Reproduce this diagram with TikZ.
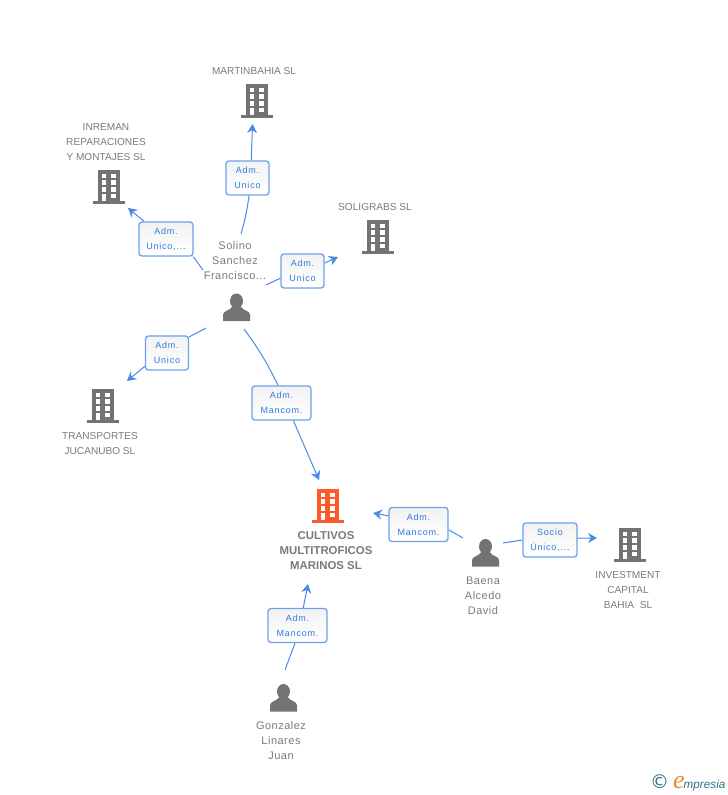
\documentclass[tikz,border=0pt]{standalone}
\usepackage{fontspec}
\setmainfont{Liberation Sans}
\newfontfamily\boxfont[LetterSpace=9]{Liberation Sans}
\newfontfamily\namefont[LetterSpace=4.5]{Liberation Sans}
\newfontfamily\markfont{DejaVu Sans}
\newfontfamily\logofont{Liberation Serif}
\usetikzlibrary{arrows.meta}
\usetikzlibrary{shadings}
\definecolor{greyicon}{HTML}{737373}
\definecolor{greytext}{HTML}{7A7A7A}
\definecolor{mainicon}{HTML}{FF5A2B}
\definecolor{linkblue}{HTML}{4A8AE4}
\definecolor{boxblue}{HTML}{6AA2EC}
\definecolor{roleblue}{HTML}{2F7AE0}
\definecolor{logoteal}{HTML}{2F6F86}
\definecolor{logoorange}{HTML}{F08A24}
\tikzset{
    company/.style={text=greytext,font=\fontsize{10.1}{15}\selectfont,align=center,inner sep=0pt,yshift=-1pt},
    maincompany/.style={company,font=\fontsize{11.4}{15}\selectfont\bfseries},
    owner/.style={company,font=\fontsize{11}{15}\selectfont\namefont},
    role/.style={draw=boxblue,line width=1.3pt,rounded corners=3pt,top color=black!5,bottom color=white,
        minimum height=34pt,inner sep=0pt,align=center,text=roleblue,font=\fontsize{9}{15}\selectfont\boxfont,
        execute at begin node={\rule{0pt}{8.6pt}}},
    roleshort/.style={role,minimum width=43pt},
    rolemid/.style={role,minimum width=54pt},
    rolelong/.style={role,minimum width=59pt},
    link/.style={draw=linkblue,line width=1pt},
    linkto/.style={link,-{Stealth[length=9pt,width=10pt,inset=3pt]}},
    pics/building/.style={code={
        \fill[#1] (-11,-17) rectangle (11,14);
        \fill[#1] (-16,14) rectangle (16,17);
        \fill[white] (-7,-13.3) rectangle (-2.7,-9);
        \fill[white] (2.3,-13.3) rectangle (7,-9);
        \fill[white] (-7,-6.7) rectangle (-2.7,-2.5);
        \fill[white] (2.3,-6.7) rectangle (7,-2.5);
        \fill[white] (-7,0) rectangle (-2.7,4.5);
        \fill[white] (2.3,0) rectangle (7,4.5);
        \fill[white] (-7,6.7) rectangle (-2.7,14);
        \fill[white] (2.3,6.7) rectangle (7,11);
    }},
    pics/person/.style={code={
        \fill[greyicon] (0,-6.5) ellipse (6.5 and 7.5);
        \fill[greyicon] (-13.5,13.5) -- (13.5,13.5) -- (13.5,7)
            .. controls (13,3) and (7,3.5) .. (4,-1) -- (-4,-1)
            .. controls (-7,3.5) and (-13,3) .. (-13.5,7) -- cycle;
    }}
}
\begin{document}
\begin{tikzpicture}[x=1pt,y=-1pt]
    \useasboundingbox (0,0) rectangle (728,795);

    \pic at (257,101) {building=greyicon};
    \pic at (109,187) {building=greyicon};
    \pic at (378,237) {building=greyicon};
    \pic at (103,406) {building=greyicon};
    \pic at (328,506) {building=mainicon};
    \pic at (630,545) {building=greyicon};
    \pic at (236.5,307.5) {person};
    \pic at (485.5,553) {person};
    \pic at (283.5,698) {person};

    \node[company] (martinbahia) at (254,70) {MARTINBAHIA SL};
    \node[company] (inreman) at (106,141) {INREMAN\\REPARACIONES\\Y MONTAJES SL};
    \node[company] (soligrabs) at (375,206) {SOLIGRABS SL};
    \node[company] (transportes) at (100,442.5) {TRANSPORTES\\JUCANUBO SL};
    \node[maincompany] (cultivos) at (326,550) {CULTIVOS\\MULTITROFICOS\\MARINOS SL};
    \node[company] (investment) at (628,589) {INVESTMENT\\CAPITAL\\BAHIA\ \ SL};
    \node[owner] (solino) at (235,260) {Solino\\Sanchez\\Francisco...};
    \node[owner] (baena) at (483,595) {Baena\\Alcedo\\David};
    \node[owner] (gonzalez) at (281,740) {Gonzalez\\Linares\\Juan};

    \node[roleshort] (admmartin) at (247.5,178) {Adm.\\Unico};
    \node[rolemid] (adminreman) at (166,239) {Adm.\\Unico,...};
    \node[roleshort] (admsoli) at (302.5,271) {Adm.\\Unico};
    \node[roleshort] (admtrans) at (167,353) {Adm.\\Unico};
    \node[rolelong] (admmain) at (281.5,403) {Adm.\\Mancom.};
    \node[rolelong] (admbaena) at (418.5,524.5) {Adm.\\Mancom.};
    \node[rolelong] (admgonz) at (297.5,625.5) {Adm.\\Mancom.};
    \node[rolemid] (socio) at (550,540) {Socio\\Único,...};

    \coordinate (a1) at (241,234);
    \coordinate (a2) at (252.5,124);
    \coordinate (b1) at (203,270);
    \coordinate (b2) at (128,208);
    \coordinate (c1) at (266,285);
    \coordinate (c2) at (338,257);
    \coordinate (d1) at (206,328);
    \coordinate (d2) at (127,381);
    \coordinate (e1) at (244,329);
    \coordinate (e2) at (319,480);
    \coordinate (f1) at (463,538);
    \coordinate (f2) at (373,513);
    \coordinate (g1) at (285,670);
    \coordinate (g2) at (308,584);
    \coordinate (h1) at (503,543);
    \coordinate (h2) at (597,538);

    \draw[link] (a1) to[bend right=4] (admmartin.-85);
    \draw[linkto] (admmartin.78) -- (a2);
    \draw[link] (b1) -- (adminreman.-33);
    \draw[linkto] (adminreman.141) -- (b2);
    \draw[link] (c1) -- (admsoli.-162);
    \draw[linkto] (admsoli.20) -- (c2);
    \draw[link] (d1) -- (admtrans.36);
    \draw[linkto] (admtrans.-149) -- (d2);
    \draw[link] (e1) to[bend left=5] (admmain.101);
    \draw[linkto] (admmain.-56) -- (e2);
    \draw[link] (f1) -- (admbaena.-10);
    \draw[linkto] (admbaena.164) -- (f2);
    \draw[link] (g1) -- (admgonz.-98);
    \draw[linkto] (admgonz.72) -- (g2);
    \draw[link] (h1) -- (socio.180);
    \draw[linkto] (socio.4) -- (h2);

    \node[anchor=base west,inner sep=0pt,text=logoteal] (logo) at (650,788)
        {{\markfont\fontsize{19}{19}\selectfont ©}\hspace{4pt}{\color{logoorange}\logofont\itshape\fontsize{26}{26}\selectfont e}\hspace{-1pt}{\itshape\fontsize{11.7}{11.7}\selectfont mpresia}};
\end{tikzpicture}
\end{document}
